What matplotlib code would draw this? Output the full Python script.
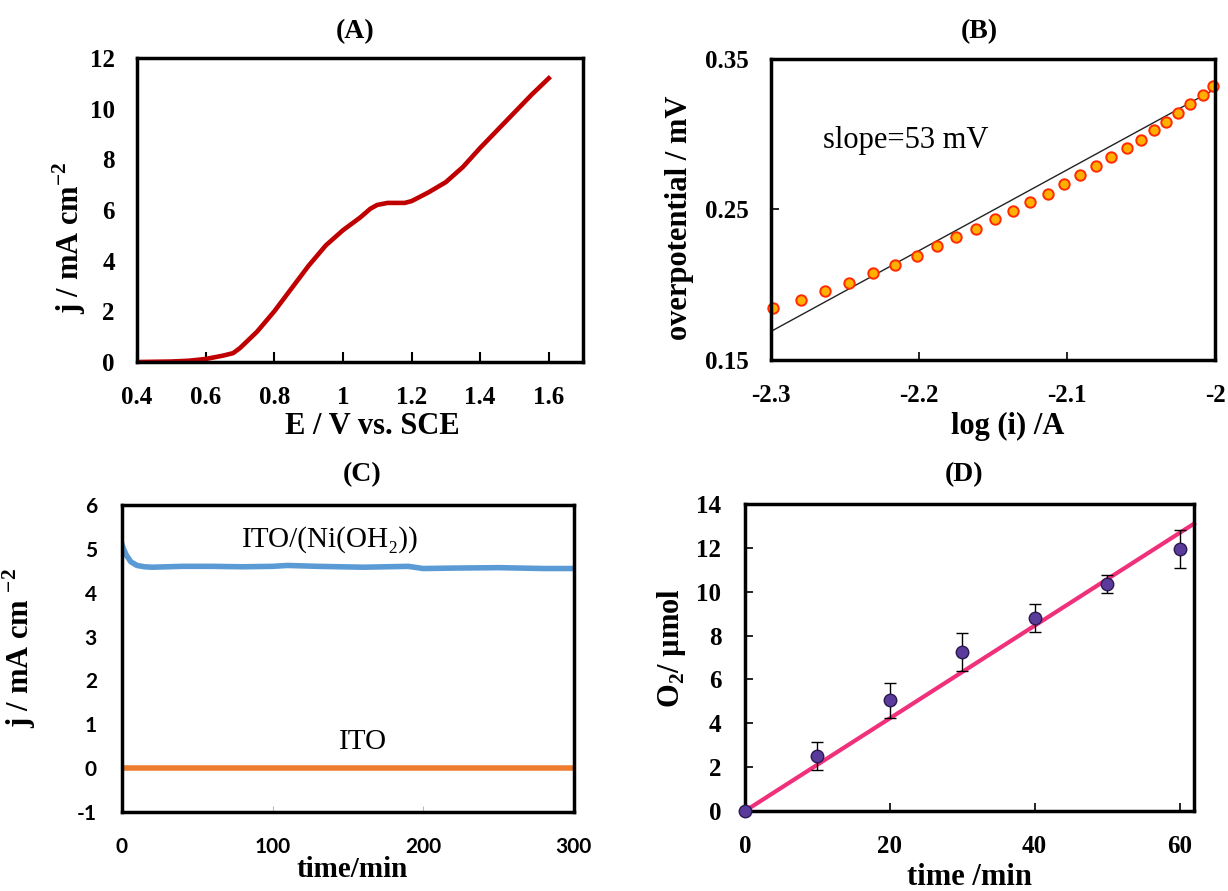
import numpy as np
from matplotlib import pyplot as plt

plt.rcParams['font.family'] = ['Liberation Serif', 'DejaVu Serif']
plt.rcParams['mathtext.fontset'] = 'custom'
plt.rcParams['mathtext.rm'] = 'Liberation Serif'
plt.rcParams['mathtext.bf'] = 'Liberation Serif:bold'
plt.rcParams['axes.unicode_minus'] = False

# (A) polarisation curve
lsv_e = [0.40, 0.45, 0.50, 0.55, 0.60, 0.65, 0.68, 0.70, 0.75, 0.80, 0.85, 0.90,
         0.95, 1.00, 1.05, 1.08, 1.10, 1.13, 1.18, 1.20, 1.25, 1.30, 1.35, 1.40,
         1.45, 1.50, 1.55, 1.60]
lsv_j = [0.00, 0.01, 0.02, 0.05, 0.12, 0.25, 0.35, 0.55, 1.20, 2.00, 2.90, 3.80,
         4.60, 5.20, 5.70, 6.05, 6.20, 6.28, 6.28, 6.35, 6.70, 7.10, 7.70, 8.45,
         9.15, 9.85, 10.55, 11.20]

# (B) Tafel points and fit
tafel_x = [-2.2986, -2.2799, -2.2636, -2.2476, -2.2313, -2.2166, -2.2017, -2.1881,
           -2.1748, -2.1618, -2.1488, -2.1366, -2.1251, -2.1132, -2.1021, -2.0912,
           -2.0806, -2.0703, -2.0597, -2.0502, -2.0415, -2.0331, -2.0252, -2.0171,
           -2.0084, -2.0016]
tafel_y = [0.1844, 0.1901, 0.1957, 0.2012, 0.2079, 0.2134, 0.2192, 0.2256,
           0.2314, 0.2371, 0.2438, 0.2493, 0.2549, 0.2606, 0.2671, 0.2728,
           0.2786, 0.2848, 0.2908, 0.2963, 0.3026, 0.3083, 0.3143, 0.3201,
           0.3263, 0.3320]
fit_x = [-2.3, -2.0]
fit_y = [0.169, 0.330]

# (C) chronoamperometry
ca_t = [0, 1, 3, 6, 10, 15, 20, 30, 40, 60, 80, 100, 110, 130, 160, 190, 200,
        220, 250, 280, 300]
ca_j = [5.10, 5.00, 4.85, 4.70, 4.62, 4.59, 4.58, 4.59, 4.60, 4.60, 4.59, 4.60,
        4.62, 4.60, 4.58, 4.60, 4.55, 4.56, 4.57, 4.55, 4.55]
ito_t = [0, 300]
ito_j = [0.0, 0.0]

# (D) O2 evolution
o2_t = [0, 10, 20, 30, 40, 50, 60]
o2_n = [0.0, 2.5, 5.05, 7.25, 8.8, 10.35, 11.95]
o2_err = [0.0, 0.65, 0.8, 0.85, 0.65, 0.43, 0.85]
o2_fit_t = [0, 62]
o2_fit_n = [0, 13.1]

fig = plt.figure(figsize=(12.28, 8.91), dpi=100)
LAB = 22
TICK = 18


def frame(ax):
    for s in ax.spines.values():
        s.set_linewidth(2.5)
        s.set_color('black')


def bold_ticks(ax, family=None):
    for t in ax.get_xticklabels() + ax.get_yticklabels():
        t.set_fontweight('bold')
        if family:
            t.set_fontfamily(family)


def labels(ax, xl, yl, title, xc, yc, tc, xsize=LAB):
    ax.set_xlabel(xl, fontsize=xsize, fontweight='bold')
    ax.set_ylabel(yl, fontsize=LAB, fontweight='bold')
    ax.xaxis.set_label_coords(*xc)
    ax.yaxis.set_label_coords(*yc)
    ax.text(tc[0], tc[1], title, transform=ax.transAxes, fontsize=20,
            fontweight='bold', ha='center', va='center')
    frame(ax)


# ---- (A)
ax = fig.add_axes([0.1116, 0.5937, 0.3632, 0.3412])
ax.plot(lsv_e, lsv_j, color='#C00000', lw=3.3)
ax.set_xlim(0.4, 1.7)
ax.set_ylim(0, 12)
ax.set_xticks([0.4, 0.6, 0.8, 1.0, 1.2, 1.4, 1.6])
ax.set_xticklabels(['0.4', '0.6', '0.8', '1', '1.2', '1.4', '1.6'])
ax.set_yticks(range(0, 13, 2))
ax.tick_params(axis='x', direction='in', length=7, width=1.5, pad=17, labelsize=TICK)
ax.tick_params(axis='y', length=0, pad=16, labelsize=TICK)
bold_ticks(ax)
labels(ax, 'E / V vs. SCE', r'j / mA cm$^{\mathbf{-2}}$', '(A)',
       (0.527, -0.164), (-0.110, 0.408), (0.489, 1.086))

# ---- (B)
ax = fig.add_axes([0.6279, 0.596, 0.3616, 0.3378])
ax.plot(fit_x, fit_y, color='#222222', lw=1)
ax.plot(tafel_x, tafel_y, 'o', ms=7.5, mfc='#FFB000', mec='#FF2A00', mew=1.4, clip_on=False)
ax.set_xlim(-2.3, -2.0)
ax.set_ylim(0.15, 0.35)
ax.set_xticks([-2.3, -2.2, -2.1, -2.0])
ax.set_xticklabels(['-2.3', '-2.2', '-2.1', '-2'])
ax.set_yticks([0.15, 0.25, 0.35])
ax.tick_params(direction='in', length=6, width=1.2, labelsize=TICK)
ax.tick_params(axis='x', pad=17)
ax.tick_params(axis='y', pad=16)
bold_ticks(ax)
ax.text(-2.265, 0.296, 'slope=53 mV', fontsize=22, va='center')
labels(ax, 'log (i) /A', 'overpotential / mV', '(B)',
       (0.534, -0.173), (-0.173, 0.472), (0.468, 1.09))

# ---- (C)
ax = fig.add_axes([0.0993, 0.0887, 0.368, 0.3446])
ax.plot(ca_t, ca_j, color='#5B9BD5', lw=4)
ax.plot(ito_t, ito_j, color='#ED7D31', lw=4)
ax.set_xlim(0, 300)
ax.set_ylim(-1, 6)
ax.set_xticks([0, 100, 200, 300])
ax.set_yticks(range(-1, 7))
ax.tick_params(axis='x', direction='in', length=4, width=0.8, color='#BBBBBB', pad=18, labelsize=15)
ax.tick_params(axis='y', length=0, pad=18, labelsize=15)
bold_ticks(ax, 'Lato')
ax.text(138, 5.2, 'ITO/(Ni(OH\u2082))', fontsize=21, ha='center', va='center')
ax.text(160, 0.6, 'ITO', fontsize=21, ha='center', va='center')
labels(ax, 'time/min', r'j / mA cm $^{\mathbf{-2}}$', '(C)',
       (0.51, -0.145), (-0.186, 0.534), (0.531, 1.098), xsize=21)

# ---- (D)
ax = fig.add_axes([0.6067, 0.0898, 0.3656, 0.3446])
ax.plot(o2_fit_t, o2_fit_n, color='#F0307A', lw=3, clip_on=False, zorder=2)
ax.errorbar(o2_t, o2_n, yerr=o2_err, fmt='o', ms=9, mfc='#5A3A9A', mec='#2A1A50',
            mew=1, ecolor='black', elinewidth=1, capsize=4.5, capthick=1,
            clip_on=False, zorder=3)
ax.set_xlim(0, 62)
ax.set_ylim(0, 14)
ax.set_xticks([0, 20, 40, 60])
ax.set_yticks(range(0, 15, 2))
ax.tick_params(direction='in', length=6, width=1.2, pad=17, labelsize=TICK)
bold_ticks(ax)
labels(ax, 'time /min', r'O$_\mathbf{2}$/ µmol', '(D)',
       (0.499, -0.169), (-0.127, 0.531), (0.488, 1.094))

plt.savefig('out.png', dpi=100)
